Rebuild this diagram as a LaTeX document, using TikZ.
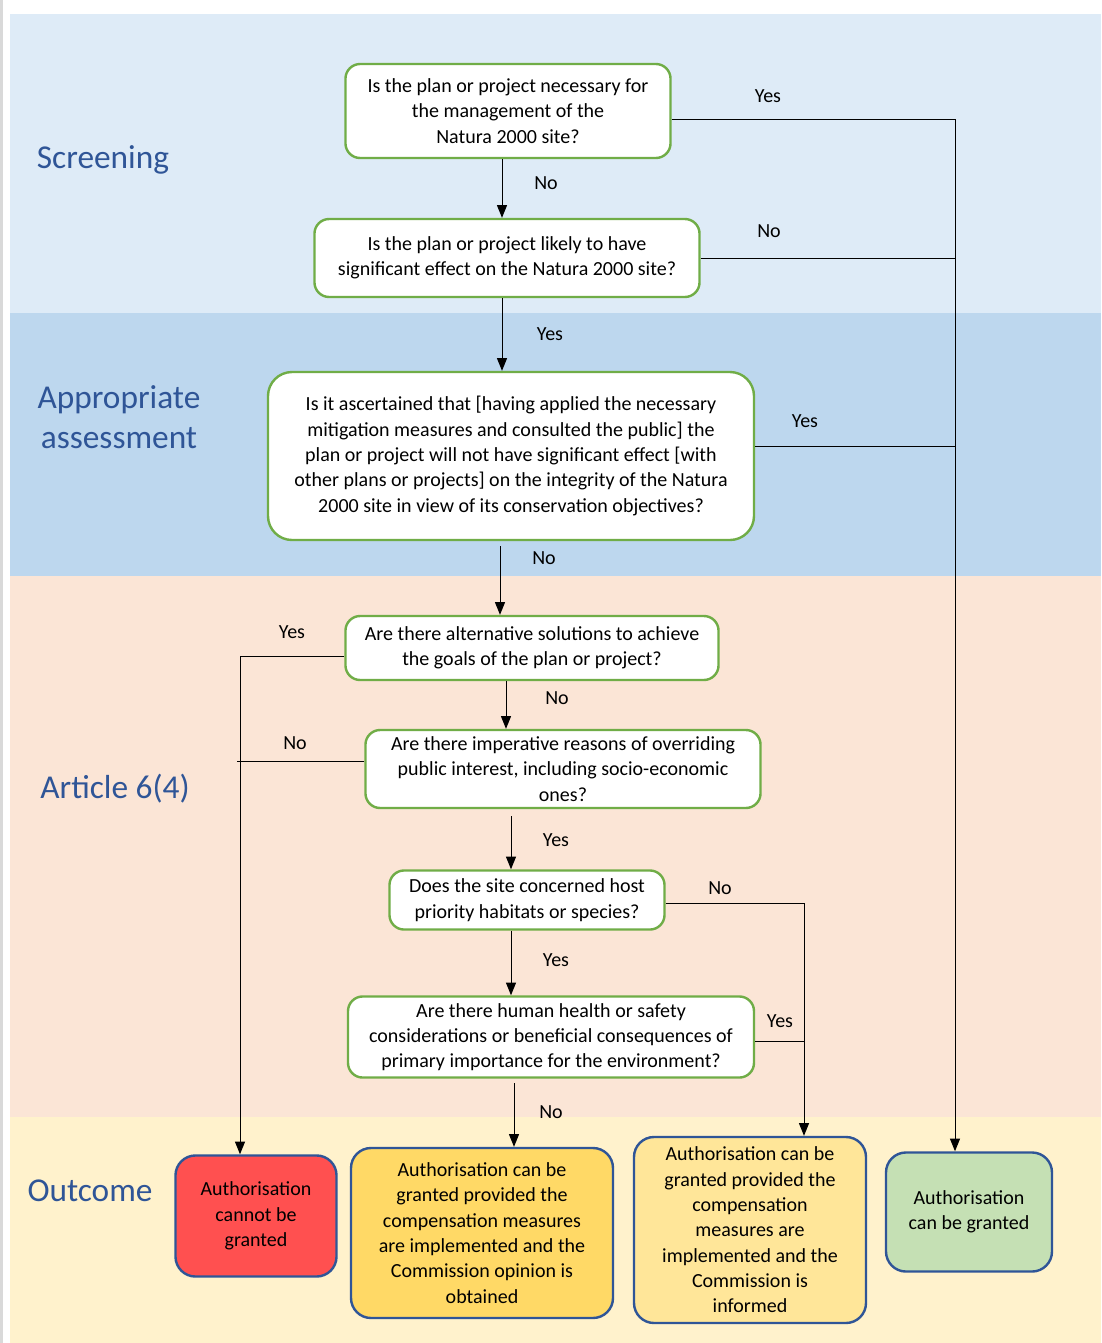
\documentclass[tikz,border=0pt]{standalone}
\usepackage{fontspec}
\setmainfont{Carlito}
\usetikzlibrary{arrows.meta}
\definecolor{screenbg}{HTML}{DEEBF7}
\definecolor{assessbg}{HTML}{BDD7EE}
\definecolor{articlebg}{HTML}{FBE5D6}
\definecolor{outcomebg}{HTML}{FFF2CC}
\definecolor{lanetext}{HTML}{2F5597}
\definecolor{qgreen}{HTML}{70AD47}
\definecolor{oblue}{HTML}{2F5597}
\definecolor{ored}{HTML}{FF5050}
\definecolor{oorange}{HTML}{FFD966}
\definecolor{oyellow}{HTML}{FFE699}
\definecolor{ogreen}{HTML}{C5E0B4}

\begin{document}
\begin{tikzpicture}[x=0.75pt,y=-0.75pt,
  q/.style={draw=qgreen,line width=1.8pt,fill=white,rounded corners=11pt,align=center,inner sep=0pt,font=\fontsize{15}{19}\selectfont},
  o/.style={draw=oblue,line width=1.8pt,rounded corners=15pt,align=center,inner sep=0pt,font=\fontsize{15}{19}\selectfont},
  lane/.style={text=lanetext,font=\fontsize{25}{30}\selectfont,align=center},
  lbl/.style={font=\fontsize{15}{18}\selectfont},
  arr/.style={-{Triangle[length=9.5pt,width=7.5pt]}},
  every path/.style={line width=0.75pt}]
  \useasboundingbox (0,0) rectangle (1101,1343);
  % lanes
  \fill[black!15] (0,0) rectangle (3,1343);
  \fill[screenbg] (10,14) rectangle (1101,313);
  \fill[assessbg] (10,313) rectangle (1101,576);
  \fill[articlebg] (10,576) rectangle (1101,1117);
  \fill[outcomebg] (10,1117) rectangle (1101,1343);
  \node[lane](screening) at (103,160){Screening};
  \node[lane](assessment) at (119,417){Appropriate\\assessment};
  \node[lane](article) at (115,789){Article 6(4)};
  \node[lane](outcome) at (90,1191){Outcome};
  % questions
  \node[q,minimum width=243.8pt,minimum height=70.5pt](q1) at (508,111){Is the plan or project necessary for\\the management of the\\Natura 2000 site?};
  \node[q,minimum width=288.8pt,minimum height=58.5pt](q2) at (507,258){Is the plan or project likely to have\\significant effect on the Natura 2000 site?};
  \node[q,rounded corners=18pt,minimum width=364.5pt,minimum height=126pt](q3) at (511,456){Is it ascertained that [having applied the necessary\\mitigation measures and consulted the public] the\\plan or project will not have significant effect [with\\other plans or projects] on the integrity of the Natura\\2000 site in view of its conservation objectives?};
  \node[q,minimum width=279.8pt,minimum height=48pt](q4) at (532,648){Are there alternative solutions to achieve\\the goals of the plan or project?};
  \node[q,minimum width=296.3pt,minimum height=58.5pt](q5) at (563,769){Are there imperative reasons of overriding\\public interest, including socio-economic\\ones?};
  \node[q,minimum width=206.3pt,minimum height=44.3pt](q6) at (527,900){Does the site concerned host\\priority habitats or species?};
  \node[q,minimum width=304.5pt,minimum height=60.8pt](q7) at (551,1037){Are there human health or safety\\considerations or beneficial consequences of\\primary importance for the environment?};
  % outcomes
  \node[o,fill=ored,minimum width=120.8pt,minimum height=90.8pt](o1) at (256,1216){Authorisation\\cannot be\\granted};
  \node[o,fill=oorange,minimum width=196.5pt,minimum height=127.5pt](o2) at (482,1233){Authorisation can be\\granted provided the\\compensation measures\\are implemented and the\\Commission opinion is\\obtained};
  \node[o,fill=oyellow,minimum width=174pt,minimum height=139.5pt](o3) at (750,1230){Authorisation can be\\granted provided the\\compensation\\measures are\\implemented and the\\Commission is\\informed};
  \node[o,fill=ogreen,minimum width=124.5pt,minimum height=89.3pt](o4) at (969,1212){Authorisation\\can be granted};
  % down the middle
  \draw[arr](502,0|-q1.south)--(502,0|-q2.north);
  \draw[arr](502,0|-q2.south)--(502,0|-q3.north);
  \draw[arr](500,546)--(500,0|-q4.north);
  \draw[arr](506,0|-q4.south)--(506,0|-q5.north);
  \draw[arr](511,816)--(511,0|-q6.north);
  \draw[arr](511,0|-q6.south)--(511,0|-q7.north);
  \draw[arr](514,1083)--(514,0|-o2.north);
  \node[lbl] at (546,183){No};
  \node[lbl] at (550,334){Yes};
  \node[lbl] at (544,558){No};
  \node[lbl] at (557,698){No};
  \node[lbl] at (556,840){Yes};
  \node[lbl] at (556,960){Yes};
  \node[lbl] at (551,1112){No};
  % right column
  \coordinate(r) at (955,0);
  \draw[arr](q1.east|-0,119)-|(o4.north-|r);
  \draw(q2.east)--(q2.east-|r);
  \draw(q3.east|-0,446)--(r|-0,446);
  \node[lbl] at (768,96){Yes};
  \node[lbl] at (769,231){No};
  \node[lbl] at (805,421){Yes};
  % left column
  \coordinate(l) at (240,0);
  \draw[arr](q4.west|-0,656)-|(o1.north-|l);
  \draw(q5.west|-0,761)--(237,761);
  \node[lbl] at (292,632){Yes};
  \node[lbl] at (295,743){No};
  % middle column
  \coordinate(m) at (804,0);
  \draw[arr](q6.east|-0,903)-|(o3.north-|m);
  \draw(q7.east|-0,1041)--(m|-0,1041);
  \node[lbl] at (720,888){No};
  \node[lbl] at (780,1021){Yes};
\end{tikzpicture}
\end{document}
